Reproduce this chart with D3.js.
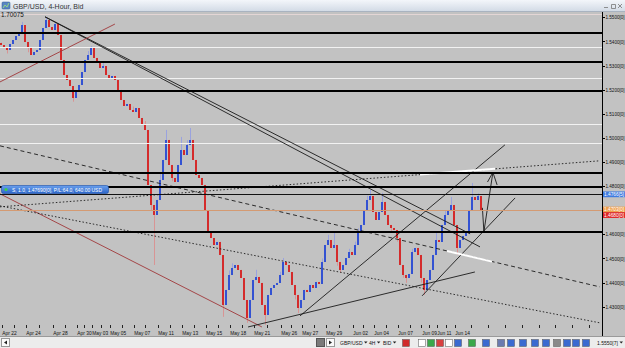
<!DOCTYPE html>
<html>
<head>
<meta charset="utf-8">
<script src="https://cdn.jsdelivr.net/npm/d3@7"></script>
<style>
body { margin: 0; background: #c2c2c2; overflow: hidden; }
text { font-family: "Liberation Sans", Arial, sans-serif; }
</style>
</head>
<body>
<div id="chart"></div>
<script>
// GBP/USD 4-hour candles, closes (bar 0 = left edge)
const firstOpen = 1.5395;
const closes = [
  1.5385,1.5373,1.5365,1.5390,1.5406,1.5423,1.5435,1.5468,1.5398,1.5373,
  1.5344,1.5356,1.5365,1.5406,1.5456,1.5489,1.5460,1.5448,1.5473,1.5427,
  1.5323,1.5261,1.5240,1.5215,1.5166,1.5191,1.5220,1.5273,1.5323,1.5344,
  1.5373,1.5332,1.5315,1.5290,1.5298,1.5261,1.5248,1.5257,1.5240,1.5199,
  1.5157,1.5133,1.5141,1.5116,1.5108,1.5124,1.5083,1.5054,1.5033,1.4805,
  1.4722,1.4681,1.4743,1.4826,1.4909,1.4992,1.4888,1.4834,1.4817,1.4888,
  1.4950,1.4929,1.4971,1.4992,1.4909,1.4847,1.4834,1.4805,1.4701,1.4610,
  1.4585,1.4556,1.4569,1.4515,1.4307,1.4370,1.4432,1.4461,1.4473,1.4453,
  1.4419,1.4328,1.4254,1.4328,1.4411,1.4424,1.4399,1.4307,1.4266,1.4349,
  1.4378,1.4390,1.4399,1.4432,1.4486,1.4473,1.4444,1.4390,1.4349,1.4295,
  1.4328,1.4370,1.4362,1.4390,1.4378,1.4403,1.4395,1.4486,1.4556,1.4577,
  1.4544,1.4556,1.4486,1.4453,1.4473,1.4502,1.4527,1.4515,1.4556,1.4610,
  1.4639,1.4701,1.4743,1.4759,1.4693,1.4660,1.4693,1.4735,1.4681,1.4639,
  1.4627,1.4618,1.4585,1.4473,1.4432,1.4419,1.4436,1.4527,1.4544,1.4515,
  1.4419,1.4370,1.4411,1.4453,1.4515,1.4577,1.4569,1.4639,1.4681,1.4701,
  1.4722,1.4639,1.4544,1.4577,1.4594,1.4610,1.4701,1.4755,1.4743,1.4759,
  1.4703
];
// wicks that stick out of the bodies: [bar, price]
const highWicks = [[7,1.5481],[15,1.5502],[18,1.5480],[29,1.5360],[30,1.5381],[34,1.5310],
  [40,1.5180],[44,1.5130],[48,1.5070],[53,1.4850],[55,1.5033],[60,1.5004],[62,1.4990],
  [63,1.5041],[76,1.4450],[77,1.4480],[85,1.4453],[93,1.4445],[94,1.4502],[107,1.4500],
  [109,1.4598],[111,1.4606],[116,1.4540],[118,1.4570],[119,1.4625],[122,1.4760],
  [123,1.4784],[127,1.4772],[137,1.4540],[145,1.4606],[148,1.4700],[150,1.4755],
  [157,1.4813],[159,1.4770]];
const lowWicks = [[2,1.5350],[9,1.5355],[24,1.5150],[50,1.4700],[51,1.4473],[57,1.4820],
  [74,1.4258],[75,1.4340],[82,1.4233],[88,1.4225],[98,1.4330],[99,1.4274],[112,1.4470],
  [113,1.4440],[130,1.4610],[132,1.4570],[134,1.4420],[135,1.4399],[140,1.4400],
  [141,1.4349],[152,1.4515],[153,1.4560]];

// 1.4700 is hidden behind the bid tag in the original
const priceTicks = [1.55,1.54,1.53,1.52,1.51,1.50,1.49,1.48,1.46,1.45,1.44,1.43];
const dateLabels = ["Apr 22","Apr 24","Apr 28","Apr 30","May 03","May 05","May 07","May 11",
  "May 13","May 15","May 18","May 21","May 26","May 27","May 29","Jun 02","Jun 04",
  "Jun 07","Jun 09","Jun 11","Jun 14"];
const dateBars = [0,8,17,25,30,36,44,52,60,68,76,84,93,100,108,117,124,132,140,145,151];

// horizontal levels
const blackLevels = [1.5435,1.5315,1.5195,1.4855,1.4797,1.4611];
const whiteLevels = [1.5514,1.5377,1.5248,1.5058,1.4979];
const tradePrice = 1.4769;
const bidPrice = 1.4703;

const priceTags = [
  {p: 1.4766, t: "1.4766[5]", c: "#3f7be0"},
  {p: 1.4703, t: "1.4703[0]", c: "#ef9f4e"},
  {p: 1.4680, t: "1.4680[0]", c: "#e02525"}
];

// drawn trend lines: [bar, price] points
const trendLines = [
  {kind: "solid", pts: [[14.5,1.5502],[159.5,1.4548]]},
  {kind: "solid", pts: [[14.5,1.5502],[156.2,1.4602]]},
  {kind: "red",   pts: [[-0.5,1.5232],[37.8,1.5472]]},
  {kind: "red",   pts: [[-0.5,1.4768],[86.8,1.4216]]},
  {kind: "dash",  pts: [[-0.5,1.4967],[199.5,1.4382]]},
  {kind: "dot",   pts: [[-0.5,1.4718],[199.5,1.4233]]},
  {kind: "dot",   pts: [[-0.5,1.4714],[199.5,1.4905]]},
  {kind: "solid", pts: [[82.2,1.4216],[157.8,1.4444]]},
  {kind: "solid", pts: [[99.5,1.4262],[167.8,1.4971]]},
  {kind: "solid", pts: [[140.2,1.4345],[171.2,1.4751]]},
  {kind: "solid", pts: [[160.3,1.4710],[160.8,1.4611],[163.8,1.4857]]},
  {kind: "solid", pts: [[162.0,1.4817],[163.8,1.4857],[165.2,1.4805]]}
];
const whiteSegments = [
  [[139.5,1.4848],[164.5,1.4872]],
  [[148.5,1.4531],[163.5,1.4487]]
];

const W = 625, H = 348;
const plotR = 602, plotT = 12, plotB = 328;

const svg = d3.select("#chart").append("svg")
    .attr("width", W)
    .attr("height", H);

const x = d3.scaleLinear().domain([0, 200]).range([1.5, 601.5]);
const y = d3.scaleLinear().domain([1.43, 1.55]).range([306.7, 17.3]);

svg.append("rect").attr("width", W).attr("height", H).attr("fill", "#c2c2c2");

const defs = svg.append("defs");
defs.append("clipPath").attr("id", "plot")
  .append("rect").attr("x", 0).attr("y", plotT).attr("width", plotR).attr("height", plotB - plotT);
const tg = defs.append("linearGradient").attr("id", "titleGrad")
    .attr("x1", 0).attr("y1", 0).attr("x2", 0).attr("y2", 1);
tg.append("stop").attr("offset", "0%").attr("stop-color", "#f3f6fa");
tg.append("stop").attr("offset", "100%").attr("stop-color", "#d3dbe6");
const bg = defs.append("linearGradient").attr("id", "boxGrad")
    .attr("x1", 0).attr("y1", 0).attr("x2", 0).attr("y2", 1);
bg.append("stop").attr("offset", "0%").attr("stop-color", "#6aa0ee");
bg.append("stop").attr("offset", "100%").attr("stop-color", "#2a64c8");

const plot = svg.append("g").attr("clip-path", "url(#plot)");

// candles
const candles = closes.map((c, i) => {
    const o = i === 0 ? firstOpen : closes[i - 1];
    const hw = highWicks.find(w => w[0] === i);
    const lw = lowWicks.find(w => w[0] === i);
    return {
        i: i, o: o, c: c,
        h: Math.max(o, c, hw ? hw[1] : 0),
        l: Math.min(o, c, lw ? lw[1] : 9)
    };
});

plot.selectAll(".wick").data(candles).join("line")
    .attr("class", "wick")
    .attr("x1", d => x(d.i)).attr("x2", d => x(d.i))
    .attr("y1", d => y(d.h)).attr("y2", d => y(d.l))
    .attr("stroke", d => d.c >= d.o ? "#9aa2de" : "#d89494")
    .attr("stroke-width", 1);

plot.selectAll(".body").data(candles).join("rect")
    .attr("class", "body")
    .attr("x", d => x(d.i) - 1.5)
    .attr("width", 2)
    .attr("y", d => y(Math.max(d.o, d.c)))
    .attr("height", d => Math.max(1, Math.abs(y(d.o) - y(d.c))))
    .attr("fill", d => d.c >= d.o ? "#3352d2" : "#d42b2b")
    .attr("shape-rendering", "crispEdges");

// white and black levels
plot.selectAll(".wlev").data(whiteLevels).join("line")
    .attr("x1", 0).attr("x2", plotR)
    .attr("y1", d => Math.round(y(d)) + 0.5).attr("y2", d => Math.round(y(d)) + 0.5)
    .attr("stroke", (d, i) => i === 0 ? "#e4d6d6" : "#f2f2f2").attr("stroke-width", 1);

const line = d3.line().x(d => x(d[0])).y(d => y(d[1]));

plot.selectAll(".trend").data(trendLines).join("path")
    .attr("d", d => line(d.pts))
    .attr("fill", "none")
    .attr("stroke", d => d.kind === "red" ? "#a0383a" : "#1a1a1a")
    .attr("stroke-width", 0.9)
    .attr("stroke-dasharray", d => d.kind === "dash" ? "4,3" : d.kind === "dot" ? "1.5,2" : null);

plot.selectAll(".wseg").data(whiteSegments).join("path")
    .attr("d", line)
    .attr("stroke", "#ffffff").attr("stroke-width", 2);

plot.selectAll(".blev").data(blackLevels).join("line")
    .attr("x1", 0).attr("x2", plotR)
    .attr("y1", d => Math.round(y(d))).attr("y2", d => Math.round(y(d)))
    .attr("stroke", "#000").attr("stroke-width", 2);

plot.append("line")
    .attr("x1", 0).attr("x2", plotR)
    .attr("y1", Math.round(y(tradePrice)) + 0.5).attr("y2", Math.round(y(tradePrice)) + 0.5)
    .attr("stroke", "#111").attr("stroke-width", 1);

plot.append("line")
    .attr("x1", 0).attr("x2", plotR)
    .attr("y1", Math.round(y(bidPrice)) + 0.5).attr("y2", Math.round(y(bidPrice)) + 0.5)
    .attr("stroke", "#d49a72").attr("stroke-width", 1);

// open position label
const ty = Math.round(y(tradePrice));
svg.append("rect").attr("x", 1.5).attr("y", ty - 8.5).attr("width", 107).attr("height", 8)
    .attr("rx", 2).attr("fill", "url(#boxGrad)").attr("stroke", "#1d4fa8").attr("stroke-width", 0.6);
svg.append("circle").attr("cx", 6).attr("cy", ty - 4.5).attr("r", 1.6).attr("fill", "#3fcf4a");
svg.append("text").attr("x", 12).attr("y", ty - 2.3)
    .attr("font-size", 6).attr("fill", "#fff")
    .attr("textLength", 90).attr("lengthAdjust", "spacingAndGlyphs")
    .text("S, 1.0, 1.47690[0], P/L:64.0, 640.00 USD");

// right price axis (narrow digits: small font stretched vertically)
svg.append("line").attr("x1", plotR + 0.5).attr("x2", plotR + 0.5)
    .attr("y1", 11).attr("y2", 336).attr("stroke", "#000");
const pax = svg.append("g");
pax.selectAll("line").data(priceTicks).join("line")
    .attr("x1", plotR).attr("x2", plotR + 3)
    .attr("y1", d => Math.round(y(d)) + 0.5).attr("y2", d => Math.round(y(d)) + 0.5)
    .attr("stroke", "#000");
pax.selectAll("text").data(priceTicks).join("text")
    .attr("transform", d => `translate(${plotR + 3.5},${y(d) + 2.1}) scale(1,1.25)`)
    .attr("font-size", 4.6).attr("fill", "#111")
    .text(d => d3.format(".4f")(d) + "[0]");

const tags = svg.append("g").selectAll("g").data(priceTags).join("g");
tags.append("rect").attr("x", plotR + 1).attr("y", d => y(d.p) - 2.9).attr("width", 22).attr("height", 5.8)
    .attr("fill", d => d.c);
tags.append("text").attr("x", plotR + 2).attr("y", d => y(d.p) + 1.9)
    .attr("font-size", 5.2).attr("fill", "#fff")
    .attr("textLength", 20).attr("lengthAdjust", "spacingAndGlyphs")
    .text(d => d.t);

// bottom date axis
const tickBars = [];
dateBars.forEach((b, i) => {
    tickBars.push(b);
    if (i < dateBars.length - 1) tickBars.push((b + dateBars[i + 1]) / 2);
});
d3.range(dateBars[dateBars.length - 1] + 5.6, 200, 5.6).forEach(b => tickBars.push(b));
svg.append("g").selectAll("line").data(tickBars).join("line")
    .attr("x1", d => Math.round(x(d)) + 0.5).attr("x2", d => Math.round(x(d)) + 0.5)
    .attr("y1", 325).attr("y2", 328).attr("stroke", "#222");
svg.append("g").selectAll("text").data(dateLabels).join("text")
    .attr("transform", (d, i) => `translate(${x(dateBars[i]) + 0.8},335) scale(1,1.28)`)
    .attr("font-size", 4.85).attr("fill", "#111")
    .text(d => d);

// title bar
svg.append("rect").attr("width", W).attr("height", 11).attr("fill", "url(#titleGrad)");
svg.append("line").attr("x1", 0).attr("x2", W).attr("y1", 11.5).attr("y2", 11.5).attr("stroke", "#a9b3c0");
svg.append("rect").attr("x", 2).attr("y", 2).attr("width", 8).attr("height", 7).attr("rx", 1)
    .attr("fill", "#5a86c2").attr("stroke", "#2f5a94").attr("stroke-width", 0.5);
svg.append("path").attr("d", "M3,8 L5,5 L7,7 L9,3").attr("fill", "none")
    .attr("stroke", "#9be07a").attr("stroke-width", 0.9);
svg.append("text").attr("x", 13).attr("y", 8.5).attr("font-size", 7).attr("fill", "#333")
    .text("GBP/USD, 4-Hour, Bid");
// window buttons
svg.append("path").attr("d", "M604,7.5 H608 M611.5,4.5 h4 v4 h-4Z M618,4 L622,8 M622,4 L618,8")
    .attr("fill", "none").attr("stroke", "#777").attr("stroke-width", 0.8);
svg.append("text").attr("x", 1).attr("y", 17).attr("font-size", 6.3).attr("fill", "#111")
    .text("1.70075");

// bottom scroll bar and toolbar
svg.append("rect").attr("x", 0).attr("y", 337).attr("width", W).attr("height", 11).attr("fill", "#ececec");
svg.append("line").attr("x1", 0).attr("x2", W).attr("y1", 336.5).attr("y2", 336.5).attr("stroke", "#9a9a9a");
svg.append("rect").attr("x", 1.5).attr("y", 338.5).attr("width", 8).attr("height", 8)
    .attr("fill", "#fafafa").attr("stroke", "#999");
svg.append("path").attr("d", "M7,340.5 L4,342.5 L7,344.5Z").attr("fill", "#222");
svg.append("rect").attr("x", 316.5).attr("y", 338.5).attr("width", 8).attr("height", 8)
    .attr("fill", "#7a7a7a").attr("stroke", "#555");
svg.append("rect").attr("x", 326.5).attr("y", 338.5).attr("width", 8).attr("height", 8)
    .attr("fill", "#fafafa").attr("stroke", "#999");
svg.append("path").attr("d", "M329,340.5 L332,342.5 L329,344.5Z").attr("fill", "#222");
const tbItems = [[340, "GBP/USD", 22.5], [369, "4H", 6.4], [383, "BID", 8.3], [597, "1.5550[7]", 21]];
const tb = svg.append("g");
tb.selectAll("text").data(tbItems).join("text")
    .attr("x", d => d[0]).attr("y", 344.8)
    .attr("font-size", 5).attr("fill", "#111")
    .text(d => d[1]);
tb.selectAll("path").data(tbItems).join("path")
    .attr("d", d => `M${d[0] + d[2] + 1.5},341.5 h3.5 l-1.75,2Z`)
    .attr("fill", "#222");
const icons = [
  [402,"#d02a2a"],[418,"#ffffff"],[427,"#3aa84a"],[436,"#d84040"],[445,"#ffffff"],[454,"#3a6ad0"],
  [468,"#3aa84a"],[482,"#3a6ad0"],[497,"#6a7ab0"],[507,"#3a6ad0"],[519,"#3a6ad0"],[531,"#3a6ad0"],
  [542,"#3a6ad0"],[553,"#8a8a8a"],[563,"#3a6ad0"],[572,"#3a6ad0"],[582,"#3a6ad0"]
];
svg.append("g").selectAll("rect").data(icons).join("rect")
    .attr("x", d => d[0] + 0.5).attr("y", 339.5).attr("width", 7).attr("height", 7)
    .attr("fill", d => d[1]).attr("stroke", "#555").attr("stroke-width", 0.5);
</script>
</body>
</html>
